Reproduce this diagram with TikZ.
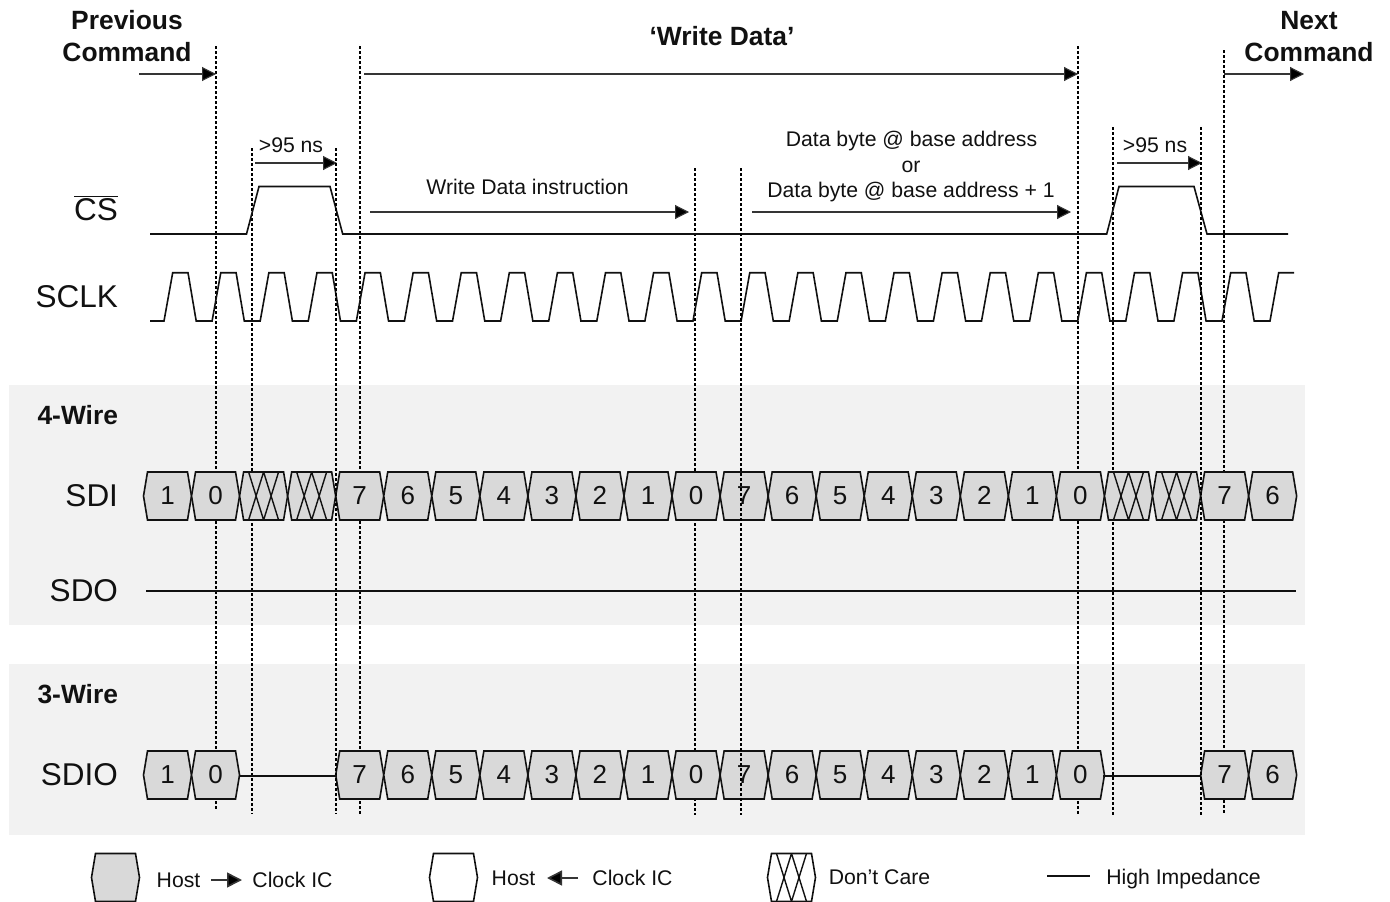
\documentclass[tikz,border=0pt]{standalone}
\usepackage{fontspec}
\setmainfont{Liberation Sans}
\usetikzlibrary{arrows.meta}
\definecolor{bandgray}{HTML}{F2F2F2}
\definecolor{hexgray}{HTML}{D9D9D9}
\definecolor{inkblack}{HTML}{111111}
\tikzset{
  band/.style={fill=bandgray,draw=none},
  guide/.style={line width=1.5pt,dash pattern=on 2.6pt off 2.4pt,draw=black},
  span/.style={line width=1.1pt,draw=inkblack!85,-{Triangle[length=14pt,width=14pt,fill=black]}},
  wave/.style={line width=1.6pt,draw=inkblack,line join=miter},
  hexline/.style={line width=1.6pt,draw=inkblack,line join=miter},
  txt/.style={anchor=base,inner sep=0pt,outer sep=0pt,text=inkblack,font=\fontsize{21.2pt}{24pt}\selectfont},
  digit/.style={txt,font=\fontsize{26pt}{28pt}\selectfont},
  sig/.style={anchor=base east,inner sep=0pt,outer sep=0pt,text=inkblack,font=\fontsize{31.5pt}{34pt}\selectfont},
  headb/.style={txt,font=\fontsize{26.4pt}{30pt}\selectfont\bfseries},
  wireb/.style={anchor=base east,inner sep=0pt,outer sep=0pt,text=inkblack,font=\fontsize{26.4pt}{30pt}\selectfont\bfseries},
}
% hexagon outline centred at (#1,#2), half height 24
\newcommand{\hexpath}[3]{\draw[hexline,fill=#3] (#1-24,#2)--(#1-20,#2-24)--(#1+20,#2-24)--(#1+24,#2)--(#1+20,#2+24)--(#1-20,#2+24)--cycle;}
\newcommand{\crosspath}[2]{\draw[line width=1.4pt,draw=inkblack] (#1-15,#2-24)--(#1,#2+24) (#1,#2-24)--(#1-15,#2+24) (#1,#2-24)--(#1+15,#2+24) (#1+15,#2-24)--(#1,#2+24);}
\begin{document}
\begin{tikzpicture}[x=1pt,y=-1pt]
\useasboundingbox (0,0) rectangle (1390,902);
\fill[white] (0,0) rectangle (1390,902);
% bands
\path[band] (9,385) rectangle (1305,625);
\path[band] (9,664) rectangle (1305,835);
% guide coordinates
\foreach \nm/\gx/\gt/\gb in {ga/216/46/810,gb/252/148/814,gd/360/46/815,gc/336/148/814,ge/695/168/815,gf/741/168/815,gg/1078/46/815,gh/1113/127/815,gi/1201/127/815,gj/1224/50/813}{
  \coordinate (\nm t) at (\gx,\gt);
  \coordinate (\nm b) at (\gx,\gb);
}
\foreach \nm in {ga,gb,gd,ge,gg,gh,gj}{\draw[guide] (\nm t)--(\nm b);}
% titles
\node[headb] (prev) at (127,29.5) {Previous};
\node[headb] (prevc) at (127,61) {Command};
\node[headb] (wd) at (722,45) {‘Write Data’};
\node[headb] (next) at (1309,29.5) {Next};
\node[headb] (nextc) at (1309,61) {Command};
% spans
\coordinate (s1) at (139,74); \coordinate (s1e) at (216,74);
\coordinate (s2) at (364,74); \coordinate (s2e) at (1078,74);
\coordinate (s3) at (1224,74); \coordinate (s3e) at (1304,74);
\coordinate (s4) at (255,163); \coordinate (s4e) at (337,163);
\coordinate (s5) at (1117,163); \coordinate (s5e) at (1202,163);
\coordinate (s6) at (370,212); \coordinate (s6e) at (689,212);
\coordinate (s7) at (752,212); \coordinate (s7e) at (1071,212);
\foreach \a in {1,...,7}{\draw[span] (s\a)--(s\a e);}
\node[txt] (t95a) at (291,152.3) {>95 ns};
\node[txt] (t95b) at (1155,152.3) {>95 ns};
\node[txt] (twd) at (527.5,194) {Write Data instruction};
\node[txt] (db1) at (911.5,146) {Data byte @ base address};
\node[txt] (db2) at (911,172) {or};
\node[txt] (db3) at (911,197) {Data byte @ base address + 1};
% CS
\draw[wave] (150,234)--(246.5,234)--(259,186.5)--(330,186.5)--(342.7,234)--(1106.7,234)--(1119,186.5)--(1194,186.5)--(1207,234)--(1288,234);
% SCLK
\draw[wave] (150,321)--(164,321)
  \foreach \k in {0,...,22}{ -- ({164+48.09*\k},321) -- ({172.7+48.09*\k},272.7) -- ({188+48.09*\k},272.7) -- ({196.2+48.09*\k},321) }
  -- (1270,321) -- (1278.7,272.7) -- (1294,272.7);
% signal labels
\node[sig] (cs) at (118,220) {$\overline{\mbox{CS}}$};
\node[sig] (sclk) at (118,307) {SCLK};
\node[sig] (sdi) at (118,506) {SDI};
\node[sig] (sdo) at (118,601) {SDO};
\node[sig] (sdio) at (118,785) {SDIO};
\node[wireb] (w4) at (118,424.5) {4-Wire};
\node[wireb] (w3) at (118,703.5) {3-Wire};
% SDI row
\foreach \k/\d in {0/1,1/0,4/7,5/6,6/5,7/4,8/3,9/2,10/1,11/0,12/7,13/6,14/5,15/4,16/3,17/2,18/1,19/0,22/7,23/6}{
  \pgfmathsetmacro{\cx}{167.5+48.05*\k}
  \hexpath{\cx}{496}{hexgray}
  \node[digit] (sdi\k) at (\cx,504.5) {\d};
  \hexpath{\cx}{775}{hexgray}
  \node[digit] (sio\k) at (\cx,783.5) {\d};
}
\foreach \k in {2,3,20,21}{
  \pgfmathsetmacro{\cx}{167.5+48.05*\k}
  \hexpath{\cx}{496}{hexgray}
  \crosspath{\cx}{496}
}
% upper guides over the hexagons
\foreach \nm in {gc,gf,gi}{\draw[guide] (\nm t)--(\nm b);}
% lines
\coordinate (sdol) at (146,591); \coordinate (sdor) at (1296,591);
\draw[wave] (sdol)--(sdor);
\coordinate (hz1a) at (240,776); \coordinate (hz1b) at (337,776);
\coordinate (hz2a) at (1103,776); \coordinate (hz2b) at (1201,776);
\draw[wave] (hz1a)--(hz1b);
\draw[wave] (hz2a)--(hz2b);
% legend
\hexpath{115.5}{877.5}{hexgray}
\node[txt] (l1a) at (178.5,887) {Host};
\coordinate (la1) at (211,880); \coordinate (la1e) at (242,880);
\draw[span,line width=1.6pt,-{Triangle[length=15pt,width=15pt,fill=black]}] (la1)--(la1e);
\node[txt] (l1b) at (292.5,887) {Clock IC};
\hexpath{453.5}{877.5}{white}
\node[txt] (l2a) at (513.5,885) {Host};
\coordinate (la2) at (578,878); \coordinate (la2e) at (547,878);
\draw[span,line width=1.6pt,-{Triangle[length=15pt,width=15pt,fill=black]}] (la2)--(la2e);
\node[txt] (l2b) at (632.5,885) {Clock IC};
\hexpath{791.5}{877.5}{white}
\crosspath{791.5}{877.5}
\node[txt] (l3) at (879.5,884) {Don’t Care};
\coordinate (lz1) at (1047,876); \coordinate (lz2) at (1090,876);
\draw[wave] (lz1)--(lz2);
\node[txt] (l4) at (1183.5,884) {High Impedance};
\end{tikzpicture}
\end{document}
